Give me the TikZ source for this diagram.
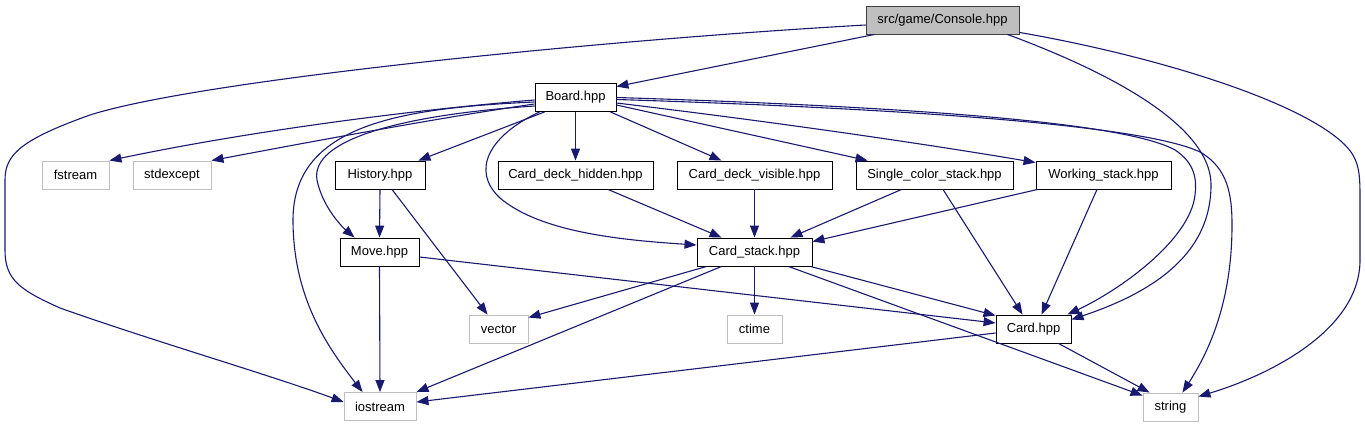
\documentclass[tikz,border=0pt]{standalone}
\usepackage{fontspec}
\setmainfont{Liberation Sans}
\usetikzlibrary{arrows.meta}
\definecolor{edgeblue}{HTML}{191970}
\definecolor{sysgray}{HTML}{BFBFBF}
\definecolor{mainfill}{HTML}{BFBFBF}
\definecolor{mainborder}{HTML}{404040}
\tikzset{
  hdr/.style={rectangle, draw=black, fill=white, line width=0.9pt, inner sep=0pt,
    minimum height=28pt, font=\fontsize{13}{15}\selectfont},
  syshdr/.style={hdr, draw=sysgray},
  mainhdr/.style={hdr, fill=mainfill, draw=mainborder},
  dep/.style={draw=edgeblue, line width=1.1pt, -{Triangle[length=12pt,width=9pt]}}
}
\begin{document}
\begin{tikzpicture}[x=1pt,y=-1pt]
\useasboundingbox[fill=white] (0,0) rectangle (1365,427);
% nodes
\node[mainhdr, minimum width=153pt] (console) at (942.5,20) {src/game/Console.hpp};
\node[hdr, minimum width=81pt] (board) at (575.5,97.5) {Board.hpp};
\node[syshdr, minimum width=67pt] (fstream) at (75.5,175) {fstream};
\node[syshdr, minimum width=78pt] (stdexcept) at (172,175) {stdexcept};
\node[hdr, minimum width=90pt] (history) at (380,175) {History.hpp};
\node[hdr, minimum width=155pt] (hidden) at (575.5,175) {Card\_deck\_hidden.hpp};
\node[hdr, minimum width=155pt] (visible) at (754.5,175) {Card\_deck\_visible.hpp};
\node[hdr, minimum width=157pt] (single) at (934.5,175) {Single\_color\_stack.hpp};
\node[hdr, minimum width=135pt] (working) at (1103.5,175) {Working\_stack.hpp};
\node[hdr, minimum width=79pt] (move) at (379.5,252) {Move.hpp};
\node[hdr, minimum width=115pt] (cardstack) at (754.5,252) {Card\_stack.hpp};
\node[syshdr, minimum width=59pt] (vector) at (498.5,329) {vector};
\node[syshdr, minimum width=55pt] (ctime) at (754.5,329) {ctime};
\node[hdr, minimum width=75pt] (card) at (1033.5,329) {Card.hpp};
\node[syshdr, minimum width=72pt] (iostream) at (380,406.5) {iostream};
\node[syshdr, minimum width=55pt] (string) at (1170.5,407) {string};
% Console.hpp
\draw[dep] ([xshift=9pt]console.south west) -- ([yshift=-3.5pt]board.north east);
\draw[dep] ([yshift=-5pt]console.west) .. controls (600,40) and (200,80) .. (90,115)
  .. controls (20,140) and (5,155) .. (5,180) -- (5,250)
  .. controls (5,280) and (20,290) .. (60,308)
  .. controls (150,340) and (270,375) .. ([yshift=4.5pt]iostream.west);
\draw[dep] ([xshift=-12pt]console.south east) .. controls (1090,65) and (1211,120) .. (1211,185)
  .. controls (1211,250) and (1160,290) .. ([yshift=-5pt]card.north east);
\draw[dep] ([yshift=2pt]console.south east) .. controls (1150,55) and (1300,100) .. (1345,145)
  .. controls (1360,160) and (1360,175) .. (1360,200) -- (1360,260)
  .. controls (1360,330) and (1270,375) .. ([yshift=-4pt]string.north east);
% Board.hpp
\draw[dep] ([yshift=-2.5pt]board.west) .. controls (400,111) and (240,133) .. (fstream.north east);
\draw[dep] ([yshift=-6.5pt]board.west) .. controls (450,116) and (320,140) .. (stdexcept.north east);
\draw[dep] ([yshift=-4.5pt]board.west) .. controls (400,108) and (293,125) .. (293,220)
  .. controls (293,300) and (330,350) .. ([xshift=19pt]iostream.north west);
\draw[dep] ([yshift=-8.5pt]board.west) .. controls (400,115) and (310,140) .. (317,180)
  .. controls (322,205) and (340,225) .. ([xshift=15pt]move.north west);
\draw[dep] ([xshift=5pt]board.south west) .. controls (490,135) and (470,170) .. (500,198)
  .. controls (540,232) and (620,240) .. ([yshift=7pt]cardstack.west);
\draw[dep] ([xshift=10pt]board.south west) -- ([xshift=-7pt]history.north east);
\draw[dep] (board.south) -- (hidden.north);
\draw[dep] ([xshift=-6pt]board.south east) -- ([xshift=45pt]visible.north west);
\draw[dep] ([yshift=-7.5pt]board.east) -- ([xshift=12pt]single.north west);
\draw[dep] ([yshift=-5.5pt]board.east) .. controls (800,125) and (950,148) .. ([yshift=-2pt]working.north west);
\draw[dep] (board.east) .. controls (950,108) and (1130,125) .. (1175,150)
  .. controls (1195,163) and (1197,180) .. (1195,195)
  .. controls (1190,240) and (1120,290) .. ([xshift=-4pt]card.north east);
\draw[dep] ([yshift=-2pt]board.east) .. controls (950,110) and (1150,128) .. (1200,152)
  .. controls (1228,168) and (1232,195) .. (1232,225)
  .. controls (1232,300) and (1210,350) .. ([xshift=-16pt]string.north east);
% History.hpp
\draw[dep] (history.south) -- (move.north);
\draw[dep] ([xshift=12pt]history.south) -- ([xshift=19pt]vector.north west);
% decks and stacks
\draw[dep] ([xshift=32.5pt]hidden.south) -- ([xshift=25pt]cardstack.north west);
\draw[dep] (visible.south) -- (cardstack.north);
\draw[dep] ([xshift=46pt]single.south west) -- ([xshift=-22pt]cardstack.north east);
\draw[dep] ([xshift=8.5pt]single.south) -- ([xshift=27pt]card.north west);
\draw[dep] ([xshift=2pt]working.south west) -- ([yshift=-4pt]cardstack.north east);
\draw[dep] ([xshift=-6.5pt]working.south) -- ([xshift=46pt]card.north west);
% Move.hpp
\draw[dep] (move.south) -- (iostream.north);
\draw[dep] ([yshift=-5pt]move.east) -- ([yshift=6pt]card.west);
% Card_stack.hpp
\draw[dep] ([xshift=10pt]cardstack.south west) -- ([yshift=-3pt]vector.north east);
\draw[dep] ([xshift=25pt]cardstack.south west) -- (iostream.north east);
\draw[dep] (cardstack.south) -- (ctime.north);
\draw[dep] ([xshift=-2pt]cardstack.south east) -- ([yshift=-1pt]card.north west);
\draw[dep] ([xshift=-24pt]cardstack.south east) -- ([yshift=-3pt]string.north west);
% Card.hpp
\draw[dep] ([yshift=-4pt]card.west) -- ([yshift=4.5pt]iostream.east);
\draw[dep] ([xshift=-13pt]card.south east) -- ([xshift=7pt]string.north west);
\end{tikzpicture}
\end{document}
